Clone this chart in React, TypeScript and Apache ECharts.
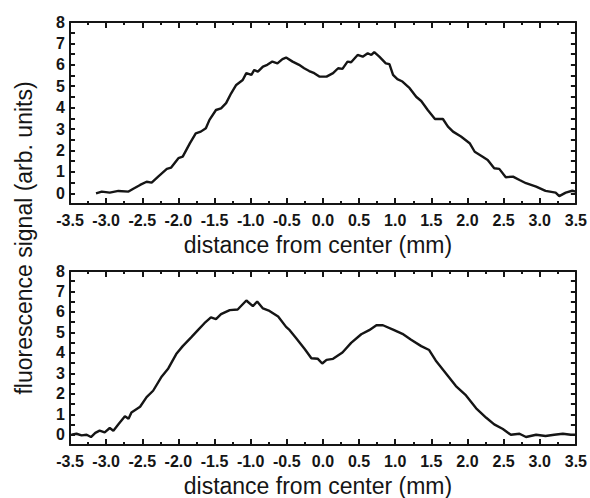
import React, { useEffect, useRef } from "react";
import * as echarts from "echarts";

// Top panel profile (distance in mm, signal in arb. units)
const topX = [
  -3.14, -3.06, -2.95, -2.83, -2.69, -2.63, -2.53, -2.44, -2.37, -2.28, -2.16, -2.1, -2.0, -1.94, -1.84,
  -1.76, -1.69, -1.62, -1.57, -1.48, -1.41, -1.34, -1.27, -1.2, -1.11, -1.06, -0.99, -0.95, -0.9, -0.83,
  -0.77, -0.7, -0.63, -0.56, -0.51, -0.42, -0.33, -0.26, -0.19, -0.12, -0.05, 0.05, 0.14, 0.21, 0.27,
  0.34, 0.39, 0.48, 0.55, 0.62, 0.67, 0.71, 0.78, 0.87, 0.92, 0.97, 1.03, 1.1, 1.2, 1.29, 1.36, 1.45,
  1.55, 1.66, 1.73, 1.8, 1.91, 2.03, 2.1, 2.21, 2.28, 2.37, 2.44, 2.53, 2.63, 2.72, 2.81, 2.95, 3.08,
  3.22, 3.27, 3.36, 3.45, 3.5,
];
const topY = [
  0.0, 0.08, 0.03, 0.11, 0.08, 0.2, 0.39, 0.54, 0.5, 0.78, 1.14, 1.2, 1.64, 1.71, 2.34,
  2.8, 2.88, 3.04, 3.43, 3.89, 3.97, 4.21, 4.67, 5.06, 5.29, 5.61, 5.53, 5.76, 5.68, 5.92,
  6.0, 6.15, 6.07, 6.27, 6.34, 6.15, 6.0, 5.84, 5.71, 5.61, 5.45, 5.45, 5.61, 5.84, 5.81,
  6.15, 6.12, 6.46, 6.38, 6.54, 6.46, 6.59, 6.38, 6.07, 6.03, 5.53, 5.33, 5.22, 4.91, 4.51, 4.31, 3.89,
  3.47, 3.47, 3.11, 2.88, 2.65, 2.34, 1.94, 1.71, 1.56, 1.17, 1.14, 0.75, 0.78, 0.62, 0.47, 0.31, 0.11,
  0.03, -0.13, 0.03, 0.12, 0.08,
];

// Bottom panel profile
const bottomX = [
  -3.48, -3.41, -3.34, -3.27, -3.21, -3.15, -3.09, -3.02, -2.95, -2.9, -2.83, -2.74, -2.69, -2.65, -2.53,
  -2.44, -2.35, -2.23, -2.14, -2.03, -1.94, -1.82, -1.73, -1.64, -1.55, -1.48, -1.41, -1.29, -1.18, -1.06,
  -0.97, -0.91, -0.83, -0.74, -0.62, -0.51, -0.46, -0.37, -0.25, -0.16, -0.07, -0.01, 0.05, 0.14, 0.27,
  0.39, 0.53, 0.64, 0.74, 0.83, 0.97, 1.1, 1.22, 1.36, 1.47, 1.56, 1.7, 1.84, 1.98, 2.12, 2.26, 2.37,
  2.49, 2.6, 2.72, 2.81, 2.95, 3.08, 3.2, 3.32, 3.43, 3.5,
];
const bottomY = [
  0.0, 0.05, -0.03, 0.0, -0.11, 0.09, 0.2, 0.12, 0.33, 0.2, 0.51, 0.9, 0.78, 1.09, 1.37,
  1.84, 2.15, 2.85, 3.24, 3.94, 4.33, 4.77, 5.11, 5.45, 5.73, 5.65, 5.89, 6.09, 6.12, 6.56,
  6.28, 6.51, 6.17, 6.05, 5.78, 5.27, 5.11, 4.72, 4.18, 3.74, 3.71, 3.48, 3.66, 3.71, 4.02,
  4.49, 4.91, 5.11, 5.35, 5.35, 5.14, 4.93, 4.64, 4.33, 4.14, 3.63, 3.01, 2.38, 1.92, 1.29, 0.83, 0.51,
  0.28, 0.0, 0.05, -0.11, 0.0, -0.06, 0.0, 0.05, 0.0, 0.0,
];

const xTitle = "distance from center (mm)";
const yTitle = "fluorescence signal (arb. units)";

const FONT = "'Liberation Sans', Arial, Helvetica, sans-serif";
const INK = "#151515";

function pairs(xs: number[], ys: number[]) {
  return xs.map((x, i) => [x, ys[i]]);
}

export default function App() {
  const ref = useRef<HTMLDivElement>(null);

  useEffect(() => {
    document.body.style.margin = "0";
    const chart = echarts.init(ref.current!, null, { renderer: "svg" });

    const lineStyle = { color: INK, width: 2 };

    const xAxis = (gi: number, pos: "bottom" | "top") => ({
      type: "value",
      gridIndex: gi,
      position: pos,
      min: -3.5,
      max: 3.5,
      interval: 0.5,
      axisLine: { show: true, onZero: false, lineStyle },
      axisTick: { show: true, inside: true, length: 6, lineStyle },
      minorTick: { show: true, splitNumber: 2, length: 3, lineStyle },
      splitLine: { show: false },
      minorSplitLine: { show: false },
      axisLabel:
        pos === "bottom"
          ? {
              show: true,
              margin: 8,
              color: INK,
              fontFamily: FONT,
              fontWeight: "bold",
              fontSize: 16,
              showMinLabel: true,
              showMaxLabel: true,
              formatter: (v: number) => v.toFixed(1),
            }
          : { show: false },
      name: pos === "bottom" ? xTitle : "",
      nameLocation: "middle",
      nameGap: 29,
      nameTextStyle: {
        color: INK,
        fontFamily: FONT,
        fontSize: 23,
        fontWeight: "normal",
        padding: [0, 10, 0, 0],
      },
    });

    const yAxis = (gi: number, pos: "left" | "right") => ({
      type: "value",
      gridIndex: gi,
      position: pos,
      min: -0.5,
      max: 8,
      interval: 0.5,
      axisLine: { show: true, onZero: false, lineStyle },
      axisTick: { show: true, inside: true, length: 5, lineStyle },
      splitLine: { show: false },
      axisLabel:
        pos === "left"
          ? {
              show: true,
              margin: 5,
              color: INK,
              fontFamily: FONT,
              fontWeight: "bold",
              fontSize: 16,
              formatter: (v: number) => (Number.isInteger(v) && v >= 0 ? String(v) : ""),
            }
          : { show: false },
    });

    chart.setOption({
      animation: false,
      backgroundColor: "#ffffff",
      grid: [
        { left: 70, top: 22, width: 506, height: 182 },
        { left: 70, top: 271, width: 506, height: 182 },
      ],
      xAxis: [xAxis(0, "bottom"), xAxis(0, "top"), xAxis(1, "bottom"), xAxis(1, "top")],
      yAxis: [yAxis(0, "left"), yAxis(0, "right"), yAxis(1, "left"), yAxis(1, "right")],
      series: [
        {
          type: "line",
          xAxisIndex: 0,
          yAxisIndex: 0,
          data: pairs(topX, topY),
          showSymbol: false,
          symbol: "none",
          lineStyle: { color: INK, width: 2.4 },
          clip: true,
        },
        {
          type: "line",
          xAxisIndex: 2,
          yAxisIndex: 2,
          data: pairs(bottomX, bottomY),
          showSymbol: false,
          symbol: "none",
          lineStyle: { color: INK, width: 2.4 },
          clip: true,
        },
      ],
      graphic: [
        {
          type: "text",
          x: 24,
          y: 238,
          rotation: Math.PI / 2,
          style: {
            text: yTitle,
            fill: INK,
            font: `23px ${FONT}`,
            textAlign: "center",
            textVerticalAlign: "middle",
          },
        },
      ],
    });

    return () => chart.dispose();
  }, []);

  return <div ref={ref} style={{ width: 590, height: 498 }} />;
}
